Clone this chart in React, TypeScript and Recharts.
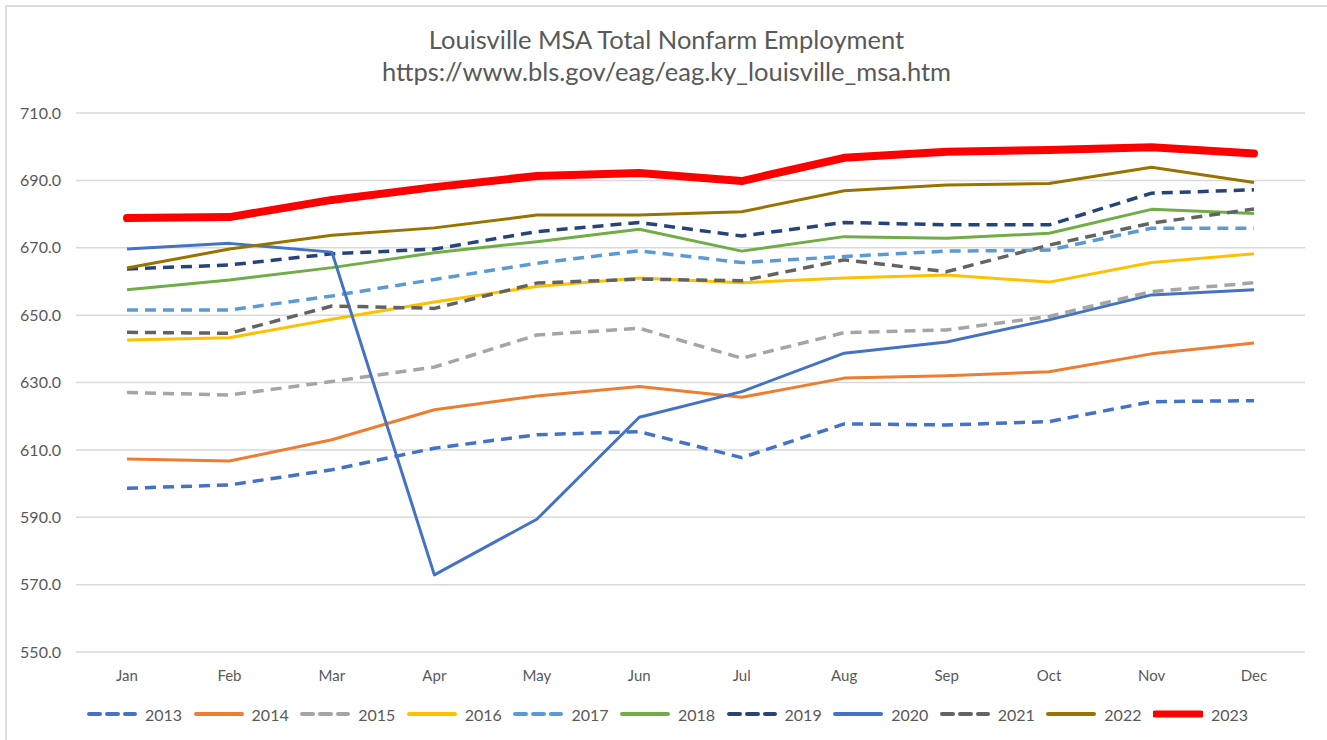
import React from 'react';
import { LineChart, Line, XAxis, YAxis, CartesianGrid, Legend } from 'recharts';

const months = ['Jan', 'Feb', 'Mar', 'Apr', 'May', 'Jun', 'Jul', 'Aug', 'Sep', 'Oct', 'Nov', 'Dec'];

const y2013 = [598.6, 599.6, 604.1, 610.5, 614.5, 615.4, 607.7, 617.7, 617.4, 618.4, 624.3, 624.6];
const y2014 = [607.3, 606.7, 613.0, 621.9, 626.0, 628.8, 625.6, 631.3, 632.0, 633.2, 638.5, 641.7];
const y2015 = [627.0, 626.3, 630.3, 634.6, 644.1, 646.1, 637.2, 644.8, 645.6, 649.6, 657.0, 659.6];
const y2016 = [642.6, 643.3, 648.8, 653.9, 658.5, 661.0, 659.6, 661.0, 661.9, 659.8, 665.6, 668.2];
const y2017 = [651.5, 651.5, 655.7, 660.6, 665.4, 669.1, 665.6, 667.4, 669.0, 669.3, 675.8, 675.8];
const y2018 = [657.5, 660.4, 664.1, 668.5, 671.8, 675.5, 669.0, 673.3, 672.8, 674.3, 681.4, 680.2];
const y2019 = [663.7, 664.9, 668.2, 669.6, 674.8, 677.5, 673.5, 677.5, 676.8, 676.8, 686.2, 687.2];
const y2020 = [669.6, 671.3, 668.7, 572.9, 589.4, 619.7, 627.3, 638.7, 642.0, 648.6, 656.0, 657.5];
const y2021 = [644.9, 644.6, 652.7, 652.0, 659.5, 660.7, 660.2, 666.4, 662.9, 670.8, 677.3, 681.5];
const y2022 = [664.0, 669.6, 673.7, 675.9, 679.7, 679.7, 680.7, 686.9, 688.6, 689.1, 693.9, 689.4];
const y2023 = [678.8, 679.1, 684.2, 688.0, 691.3, 692.2, 689.8, 696.7, 698.5, 699.0, 699.8, 698.0];

const yTicks = [550, 570, 590, 610, 630, 650, 670, 690, 710];

const seriesValues: Record<string, number[]> = {
  '2013': y2013,
  '2014': y2014,
  '2015': y2015,
  '2016': y2016,
  '2017': y2017,
  '2018': y2018,
  '2019': y2019,
  '2020': y2020,
  '2021': y2021,
  '2022': y2022,
  '2023': y2023,
};

// line look for each year, Excel-ish palette
const seriesStyle = [
  { key: '2013', color: '#4472C4', dashed: true, width: 3.5 },
  { key: '2014', color: '#ED7D31', dashed: false, width: 3 },
  { key: '2015', color: '#A5A5A5', dashed: true, width: 3.5 },
  { key: '2016', color: '#FFC000', dashed: false, width: 3 },
  { key: '2017', color: '#5B9BD5', dashed: true, width: 3.5 },
  { key: '2018', color: '#70AD47', dashed: false, width: 3 },
  { key: '2019', color: '#264478', dashed: true, width: 3.5 },
  { key: '2020', color: '#4472C4', dashed: false, width: 3 },
  { key: '2021', color: '#636363', dashed: true, width: 3.5 },
  { key: '2022', color: '#997300', dashed: false, width: 3 },
  { key: '2023', color: '#FF0000', dashed: false, width: 8 },
];

const data = months.map((m, i) => {
  const row: Record<string, string | number> = { month: m };
  Object.keys(seriesValues).forEach((k) => {
    row[k] = seriesValues[k][i];
  });
  return row;
});

const FONT = 'Lato, "Open Sans", sans-serif';
const TEXT = '#595959';

function LegendContent() {
  return (
    <div
      style={{
        display: 'flex',
        alignItems: 'center',
        height: 52,
        fontFamily: FONT,
        fontSize: 16,
        color: TEXT,
        paddingLeft: 87,
      }}
    >
      {seriesStyle.map((s) => (
        <div key={s.key} style={{ display: 'flex', alignItems: 'center', width: 106.6, flexShrink: 0 }}>
          <svg width={50} height={12}>
            <line
              x1={2}
              x2={48}
              y1={6}
              y2={6}
              stroke={s.color}
              strokeWidth={s.key === '2023' ? 7 : 4}
              strokeDasharray={s.dashed ? '11 7' : undefined}
              strokeLinecap="round"
            />
          </svg>
          <span style={{ marginLeft: 8 }}>{s.key}</span>
        </div>
      ))}
    </div>
  );
}

export default function App() {
  return (
    <div style={{ position: 'absolute', left: 0, top: 0, width: 1327, height: 740, background: '#fff', overflow: 'hidden' }}>
      <div
        style={{
          position: 'absolute',
          left: 5,
          top: 5,
          width: 1330,
          height: 760,
          border: '2px solid #dcdcdc',
          boxSizing: 'border-box',
        }}
      />
      <div
        style={{
          position: 'absolute',
          left: 0,
          top: 23,
          width: 1333,
          textAlign: 'center',
          fontFamily: FONT,
          fontSize: 25.5,
          lineHeight: '32px',
          color: TEXT,
        }}
      >
        <div>Louisville MSA Total Nonfarm Employment</div>
        <div>https://www.bls.gov/eag/eag.ky_louisville_msa.htm</div>
      </div>
      <div style={{ position: 'absolute', left: 0, top: 0 }}>
        <LineChart width={1327} height={740} data={data} margin={{ top: 113, right: 22, bottom: 0, left: 0 }}>
          <CartesianGrid vertical={false} stroke="#d9d9d9" strokeWidth={1.5} />
          <XAxis
            dataKey="month"
            axisLine={false}
            tickLine={false}
            tickSize={0}
            tickMargin={18}
            height={36}
            padding={{ left: 51, right: 51 }}
            tick={{ fontSize: 15, fill: TEXT, fontFamily: FONT }}
          />
          <YAxis
            domain={[550, 710]}
            ticks={yTicks}
            axisLine={false}
            tickLine={false}
            tickSize={0}
            tickMargin={15}
            width={76}
            tickFormatter={(v: number) => v.toFixed(1)}
            tick={{ fontSize: 16, fill: TEXT, fontFamily: FONT }}
          />
          <Legend verticalAlign="bottom" height={52} content={() => <LegendContent />} />
          {seriesStyle.map((s) => (
            <Line
              key={s.key}
              dataKey={s.key}
              type="linear"
              stroke={s.color}
              strokeWidth={s.width}
              strokeDasharray={s.dashed ? '11 7' : undefined}
              strokeLinecap={s.key === '2023' ? 'round' : 'butt'}
              strokeLinejoin="round"
              dot={false}
              activeDot={false}
              isAnimationActive={false}
            />
          ))}
        </LineChart>
      </div>
    </div>
  );
}
